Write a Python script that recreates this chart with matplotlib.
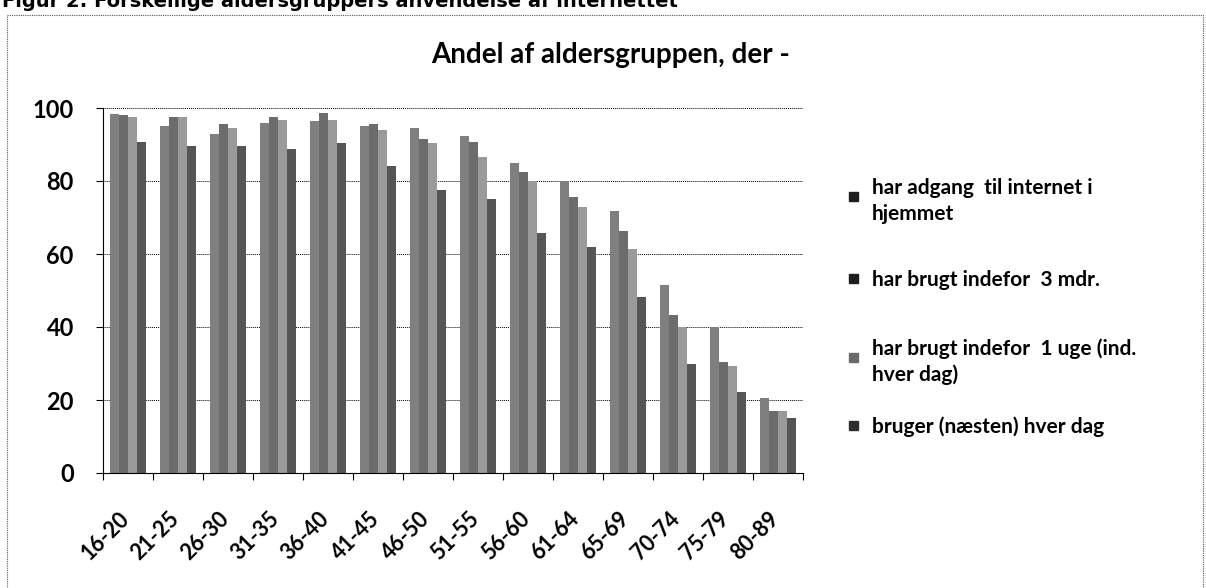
import numpy as np
import matplotlib as mpl
import matplotlib.pyplot as plt
from matplotlib.patches import Rectangle
from matplotlib.transforms import ScaledTranslation

# ---- data ----
age_groups = ["16-20", "21-25", "26-30", "31-35", "36-40", "41-45", "46-50",
              "51-55", "56-60", "61-64", "65-69", "70-74", "75-79", "80-89"]
adgang_hjemme = [98.4, 95.2, 93.0, 96.0, 96.4, 95.1, 94.6,
                 92.3, 85.0, 80.1, 71.9, 51.5, 39.9, 20.5]
brugt_3mdr = [98.0, 97.4, 95.7, 97.4, 98.5, 95.7, 91.4,
              90.6, 82.4, 75.7, 66.3, 43.3, 30.5, 17.1]
brugt_1uge = [97.4, 97.4, 94.6, 96.8, 96.8, 94.1, 90.3,
              86.6, 80.1, 72.9, 61.3, 39.9, 29.4, 17.1]
hver_dag = [90.7, 89.6, 89.6, 88.7, 90.3, 84.1, 77.5,
            75.2, 65.7, 61.9, 48.1, 29.9, 22.3, 15.0]

series_labels = ["har adgang  til internet i\nhjemmet",
                 "har brugt indefor  3 mdr.",
                 "har brugt indefor  1 uge (ind.\nhver dag)",
                 "bruger (næsten) hver dag"]
yticks = [0, 20, 40, 60, 80, 100]

COLORS = ["#7f7f7f", "#6c6c6c", "#9a9a9a", "#555555"]
MARKER_COLORS = ["#1e1e1e", "#1e1e1e", "#6a6a6a", "#2e2e2e"]
FONT = ["Lato", "DejaVu Sans"]

mpl.rcParams.update({
    "font.family": FONT,
    "font.weight": "bold",
})

W, H = 1206, 588
fig = plt.figure(figsize=(W / 100, H / 100), dpi=100)


def fx(px):
    return px / W


def fy(py):
    return 1 - py / H


# axes box: x 103..803, y 108..473 (pixels)
ax = fig.add_axes([fx(103), fy(473), fx(803) - fx(103), fy(108) - fy(473)])

series = [adgang_hjemme, brugt_3mdr, brugt_1uge, hver_dag]
x = np.arange(len(age_groups))
bw = 0.18
for i, vals in enumerate(series):
    ax.bar(x + (i - 1.5) * bw, vals, width=bw, color=COLORS[i],
           edgecolor="none", zorder=2)

ax.set_xlim(-0.5, len(age_groups) - 0.5)
ax.set_ylim(0, 100)
ax.set_yticks(yticks)
ax.set_yticklabels([str(v) for v in yticks], fontsize=17, fontweight="bold")
ax.grid(axis="y", color="black", lw=0.7, linestyle=(0, (1, 1)), zorder=1)

# category ticks at group boundaries, labels at centres
ax.set_xticks(x)
ax.set_xticklabels(age_groups, rotation=45, ha="right", va="center",
                   rotation_mode="anchor", fontsize=15.5, fontweight="bold")
ax.tick_params(axis="x", which="major", length=0, pad=0)
ax.set_xticks(np.arange(-0.5, len(age_groups)), minor=True)
ax.tick_params(axis="x", which="minor", length=5, width=0.8, direction="out")
ax.tick_params(axis="y", length=5, width=0.8, direction="out", pad=16)
offset = ScaledTranslation(-0.02, -0.42, fig.dpi_scale_trans)
for lab in ax.get_xticklabels():
    lab.set_transform(lab.get_transform() + offset)

for side in ("top", "right"):
    ax.spines[side].set_visible(False)
ax.spines["left"].set_linestyle((0, (1, 1)))
ax.spines["left"].set_linewidth(0.8)
ax.spines["bottom"].set_linewidth(0.8)

# chart title
fig.text(fx(611), fy(63), "Andel af aldersgruppen, der -", ha="center",
         va="baseline", fontsize=20, fontweight="bold")

# figure caption, cropped at the very top as in the scan
fig.text(fx(2), fy(7), "Figur 2: Forskellige aldersgruppers anvendelse af internettet",
         ha="left", va="baseline", fontsize=14, fontweight="bold",
         family="DejaVu Sans")

# chart frame
fig.patches.append(Rectangle((fx(7), fy(592)), fx(1203) - fx(7),
                             fy(15) - fy(592), transform=fig.transFigure,
                             fill=False, lw=0.8, ec="#555555",
                             linestyle=(0, (1, 1))))

# legend (Excel-style, markers on first text line)
legend_rows = [196, 278, 357, 425]
for lbl, col, yy in zip(series_labels, MARKER_COLORS, legend_rows):
    fig.patches.append(Rectangle((fx(849), fy(yy + 4.5)), fx(9), fy(0) - fy(9),
                                 transform=fig.transFigure, color=col))
    fig.text(fx(872), fy(yy), lbl, ha="left", va="center_baseline",
             fontsize=15, fontweight="bold", linespacing=1.35)

fig.savefig("out.png", dpi=100)
